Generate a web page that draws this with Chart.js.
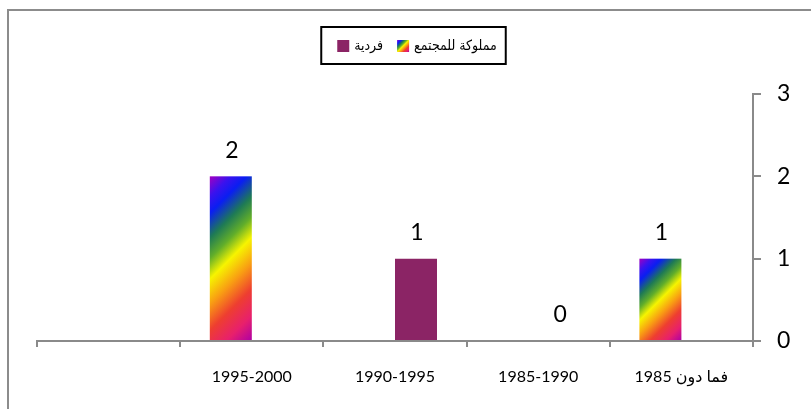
<!DOCTYPE html>
<html>
<head>
<meta charset="utf-8">
<script src="https://cdn.jsdelivr.net/npm/chart.js@4.4.0/dist/chart.umd.min.js"></script>
<style>
    html, body { margin: 0; padding: 0; background: #fff; }
    canvas { display: block; }
</style>
</head>
<body>
<canvas id="myChart" width="811" height="409" dir="rtl"></canvas>
<script>
// البيانات
const categories = ['فما دون 1985', '1985-1990', '1990-1995', '1995-2000', ''];
const seriesNames = ['مملوكة للمجتمع', 'فردية'];
const communityValues = [1, null, null, 2, null];
const individualValues = [null, 0, 1, null, null];
const yTicks = [0, 1, 2, 3];

const individualColor = '#8B2465';
const axisColor = '#8A8A8A';
const numFont = 'Lato, "DejaVu Sans", sans-serif';
const rainbowStops = [
    [0, '#A400C0'], [0.1, '#3A12EE'], [0.18, '#0A1EF2'], [0.3, '#1E7A55'],
    [0.4, '#62AE2A'], [0.5, '#F6F400'], [0.62, '#F9A012'], [0.75, '#EE3E30'],
    [0.88, '#E8206C'], [1, '#B000A4']
];

// تدرج قوس قزح مائل
function rainbow(ctx, x, y, w, h) {
    const d = (w + h) / 2;
    const g = ctx.createLinearGradient(x, y, x + d, y + d);
    rainbowStops.forEach(s => g.addColorStop(s[0], s[1]));
    return g;
}

const extras = {
    id: 'extras',
    beforeDraw(chart) {
        const ctx = chart.ctx;
        ctx.save();
        ctx.strokeStyle = '#8C8C8C';
        ctx.lineWidth = 2;
        ctx.beginPath();
        ctx.moveTo(8, chart.height);
        ctx.lineTo(8, 10);
        ctx.lineTo(chart.width, 10);
        ctx.stroke();
        ctx.restore();
    },
    afterDatasetsDraw(chart) {
        const ctx = chart.ctx;
        ctx.save();
        // أعمدة قوس قزح
        chart.getDatasetMeta(0).data.forEach((el, i) => {
            if (communityValues[i] === null) return;
            const p = el.getProps(['x', 'y', 'base', 'width'], true);
            const left = p.x - p.width / 2;
            const top = Math.min(p.y, p.base);
            const h = Math.abs(p.base - p.y);
            ctx.fillStyle = rainbow(ctx, left, top, p.width, h);
            ctx.fillRect(left, top, p.width, h);
        });
        // القيم فوق الأعمدة
        ctx.fillStyle = '#000';
        ctx.font = '23px ' + numFont;
        ctx.textAlign = 'center';
        ctx.textBaseline = 'middle';
        chart.data.datasets.forEach((ds, di) => {
            chart.getDatasetMeta(di).data.forEach((el, i) => {
                if (ds.data[i] === null) return;
                const p = el.getProps(['x', 'y'], true);
                ctx.fillText(String(ds.data[i]), p.x + 1, p.y - 26);
            });
        });
        ctx.restore();
    },
    afterDraw(chart) {
        // وسيلة الإيضاح
        const ctx = chart.ctx;
        ctx.save();
        ctx.font = '14px "DejaVu Sans Condensed", "DejaVu Sans", sans-serif';
        const items = [
            { text: seriesNames[1], color: individualColor },
            { text: seriesNames[0], color: null }
        ];
        const box = 12, gap = 5, spacing = 14;
        let total = 0;
        items.forEach((it, i) => {
            it.w = ctx.measureText(it.text).width;
            total += box + gap + it.w + (i ? spacing : 0);
        });
        const cy = 46;
        let x = 417 - total / 2;
        const start = x;
        items.forEach(it => {
            if (it.color) {
                ctx.fillStyle = it.color;
            } else {
                ctx.fillStyle = rainbow(ctx, x, cy - 6, box, box);
            }
            ctx.fillRect(x, cy - 6, box, box);
            ctx.fillStyle = '#000';
            ctx.textAlign = 'left';
            ctx.textBaseline = 'middle';
            ctx.fillText(it.text, x + box + gap, cy);
            x += box + gap + it.w + spacing;
        });
        const end = x - spacing;
        ctx.strokeStyle = '#000';
        ctx.lineWidth = 2;
        ctx.strokeRect(start - 16, 27, end - start + 25, 37);
        ctx.restore();
    }
};

const ctx = document.getElementById('myChart').getContext('2d');
const myChart = new Chart(ctx, {
    type: 'bar',
    data: {
        labels: categories,
        datasets: [{
            label: seriesNames[0],
            data: communityValues,
            backgroundColor: 'rgba(0,0,0,0)',
            borderWidth: 0
        }, {
            label: seriesNames[1],
            data: individualValues,
            backgroundColor: individualColor,
            borderWidth: 0
        }]
    },
    options: {
        responsive: false,
        animation: false,
        categoryPercentage: 0.5866,
        barPercentage: 1,
        layout: { padding: { left: 37, top: 94, right: 0, bottom: 0 } },
        plugins: {
            legend: { display: false },
            tooltip: { enabled: false }
        },
        scales: {
            x: {
                reverse: true,
                offset: true,
                grid: { offset: true, drawOnChartArea: false, tickLength: 6, color: axisColor, lineWidth: 2 },
                border: { color: axisColor, width: 2 },
                ticks: { color: '#000', font: { family: numFont, size: 16 }, padding: 20, maxRotation: 0, autoSkip: false },
                afterFit: s => { s.height = 68; }
            },
            y: {
                position: 'right',
                min: 0,
                max: 3,
                grid: { drawOnChartArea: false, tickLength: 8, color: axisColor, lineWidth: 2 },
                border: { color: axisColor, width: 2 },
                ticks: { color: '#000', font: { family: numFont, size: 23 }, padding: 16 },
                afterBuildTicks: s => { s.ticks = yTicks.map(v => ({ value: v })); },
                afterFit: s => { s.width = 58; }
            }
        }
    },
    plugins: [extras]
});
</script>
</body>
</html>
